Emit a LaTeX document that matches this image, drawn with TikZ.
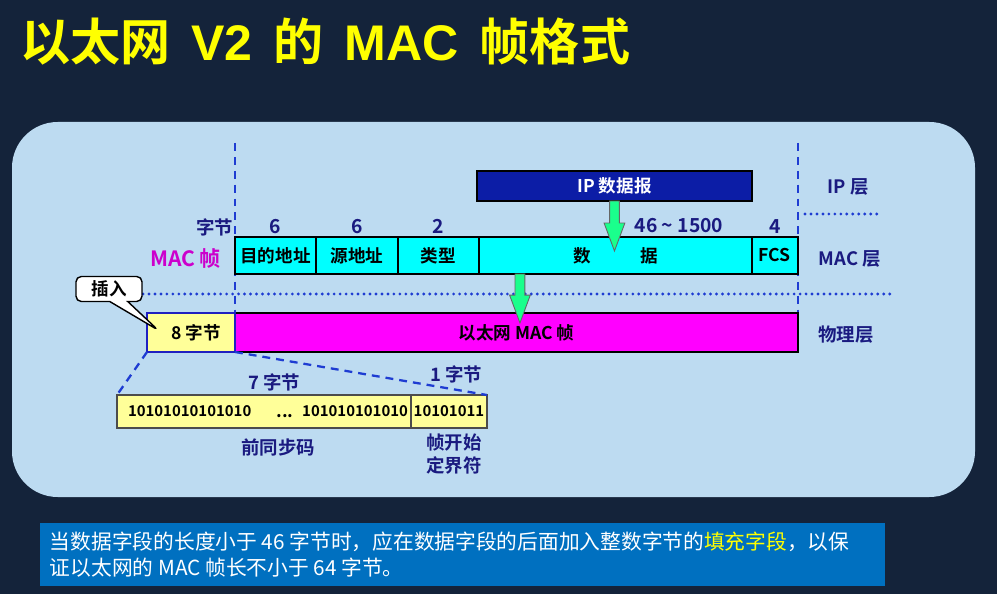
\documentclass[tikz,border=0pt]{standalone}
\usepackage{fontspec}
\setmainfont{Noto Sans CJK SC}[BoldFont={Noto Sans CJK SC Bold}]
\newfontfamily\titlelatin{Liberation Sans}[BoldFont={Liberation Sans Bold}]
\usetikzlibrary{calc,positioning,shapes.callouts}
\definecolor{SlideBg}{HTML}{14233A}
\definecolor{PanelBlue}{HTML}{BDDBF1}
\definecolor{LayerNavy}{HTML}{1A1A80}
\definecolor{GuideBlue}{HTML}{1E3CD2}
\definecolor{IpBlue}{HTML}{0C1DA6}
\definecolor{FrameCyan}{HTML}{00FFFF}
\definecolor{FrameMagenta}{HTML}{CC00CC}
\definecolor{PhyMagenta}{HTML}{FF00FF}
\definecolor{SyncYellow}{HTML}{FFFF99}
\definecolor{SyncBorder}{HTML}{2020C0}
\definecolor{ArrowGreen}{HTML}{1AFF8C}
\definecolor{NoteBlue}{HTML}{0070C0}
\definecolor{TitleYellow}{HTML}{FFFF00}
\newcommand\blockarrow[2]{%
  \draw[greenarrow] let \p1=#1, \p2=#2 in
    (\x1-2.8pt,\y1) -- (\x1-2.8pt,\y2+15.9pt) -- (\x1-5.9pt,\y2+15.9pt) -- (\x1,\y2)
    -- (\x1+5.9pt,\y2+15.9pt) -- (\x1+2.8pt,\y2+15.9pt) -- (\x1+2.8pt,\y1) -- cycle;}

\begin{document}
\begin{tikzpicture}[x=0.02cm, y=-0.02cm,
    every node/.style={inner sep=0pt, outer sep=0pt},
    lbl/.style={font=\bfseries\fontsize{10}{12}\selectfont},
    navylbl/.style={text=LayerNavy, font=\bfseries\fontsize{10.5}{13}\selectfont},
    numlbl/.style={text=LayerNavy, font=\bfseries\fontsize{11}{13}\selectfont},
    cell/.style={lbl, draw=black, line width=1.3pt, fill=FrameCyan, minimum height=0.74cm},
    iphead/.style={lbl, draw=black, line width=0.8pt, fill=IpBlue, text=white, minimum width=5.5cm, minimum height=0.6cm},
    phybox/.style={lbl, draw=black, line width=1.3pt, fill=PhyMagenta, minimum height=0.78cm},
    syncbox/.style={lbl, draw=SyncBorder, line width=1.3pt, fill=SyncYellow, minimum height=0.78cm},
    bitbox/.style={bits, draw=black!70, line width=0.8pt, fill=SyncYellow, minimum height=0.66cm},
    bits/.style={font=\bfseries\fontsize{8.5}{10}\selectfont},
    guide/.style={draw=GuideBlue, line width=1.3pt, dash pattern=on 4.5pt off 3.4pt},
    layerdots/.style={draw=GuideBlue, line width=1.8pt, line cap=round, dash pattern=on 0pt off 3.4pt},
    greenarrow/.style={draw=black!60, line width=0.5pt, fill=ArrowGreen},
    insertnote/.style={lbl, rectangle callout, draw=black, line width=0.8pt, fill=white, rounded corners=3pt,
      minimum width=1.32cm, minimum height=0.5cm, callout pointer width=0.36cm}
]
  \useasboundingbox (0,0) rectangle (997,594);
  \fill[SlideBg] (0,0) rectangle (997,594);
  \fill[PanelBlue, rounded corners=26pt] (12,122) rectangle (975,497);

  \node[anchor=west, text=TitleYellow, font=\bfseries\fontsize{28.5}{30}\selectfont] (title) at (20,42)
    {以太网\hspace{12pt}{\titlelatin V2}\hspace{12pt}的\hspace{12pt}{\titlelatin MAC}\hspace{12pt}帧格式};

  % layer guides
  \draw[guide] (235,143) -- (235,352);
  \draw[guide] (798,143) -- (798,313);
  \draw[layerdots] (143,294) -- (893,294);
  \draw[layerdots] (805,214) -- (880,214);

  \node[iphead, anchor=north west] (ip) at (477,171) {IP 数据报};

  \node[cell, minimum width=1.62cm, anchor=north west] (dst) at (235,237) {目的地址};
  \node[cell, minimum width=1.64cm, right=0pt of dst] (src) {源地址};
  \node[cell, minimum width=1.62cm, right=0pt of src] (type) {类型};
  \node[cell, minimum width=5.46cm, right=0pt of type] (data) {数\hspace{2.8em}据};
  \node[cell, minimum width=0.92cm, right=0pt of data] (fcs) {FCS};

  \node[numlbl, above=0.06cm of dst] (ndst) {6};
  \node[numlbl, above=0.06cm of src] (nsrc) {6};
  \node[numlbl, above=0.06cm of type] (ntype) {2};
  \node[numlbl] (ndata) at (679,226) {46 \textasciitilde{} 1500};
  \node[numlbl, above=0.06cm of fcs] (nfcs) {4};
  \node[navylbl, anchor=east] (unit) at (233,227) {字节};
  \node[anchor=east, text=FrameMagenta, font=\bfseries\fontsize{12}{14}\selectfont] (maclbl) at (221,258) {MAC 帧};

  \node[navylbl] (iplayer) at (848,187) {IP 层};
  \node[navylbl] (maclayer) at (850,259) {MAC 层};
  \node[navylbl] (phylayer) at (846,335) {物理层};

  \node[phybox, minimum width=11.26cm, anchor=north west] (phy) at (235,313) {以太网 MAC 帧};
  \node[syncbox, minimum width=1.76cm, left=0pt of phy] (pre8) {\hspace{0.6em}8 字节};
  \node[insertnote, callout absolute pointer={(158,330)}] (insert) at (109,289) {插入};

  \blockarrow{(ip.south)}{($(ip.south)+(0,50)$)}
  \blockarrow{($(data.south west)+(41,0)$)}{($(phy.north west)+(285,10)$)}

  % preamble and SFD
  \node[bitbox, minimum width=5.88cm, anchor=north west] (pre) at (117,395) {};
  \node[bitbox, minimum width=1.52cm, right=0pt of pre] (sfd) {10101011};
  \node[bits, anchor=west] (bitsa) at ($(pre.west)+(11,0)$) {10101010101010};
  \node[bits, anchor=east] (bitsb) at ($(pre.east)+(-3,0)$) {101010101010};
  \node[bits, font=\bfseries\fontsize{10}{10}\selectfont] (bitdots) at (285,416) {...};
  \draw[guide] (pre8.south west) -- (pre.north west);
  \draw[guide] (pre8.south east) -- (sfd.north east);

  \node[navylbl] (n7) at (274,382) {7 字节};
  \node[navylbl] (n1) at (456,374) {1 字节};
  \node[navylbl] (prename) at (278,447) {前同步码};
  \node[navylbl, align=center] (sfdname) at (454,454) {帧开始\\定界符};

  \node[fill=NoteBlue, minimum width=16.9cm, minimum height=1.26cm, anchor=north west] (note) at (40,523) {};
  \node[anchor=north west, text=white, align=left, font=\fontsize{11.8}{14.7}\selectfont] (notetext) at (50,532)
    {当数据字段的长度小于 46 字节时，应在数据字段的后面加入整数字节的\textcolor{TitleYellow}{填充字段}，以保\\证以太网的 MAC 帧长不小于 64 字节。};
\end{tikzpicture}
\end{document}
